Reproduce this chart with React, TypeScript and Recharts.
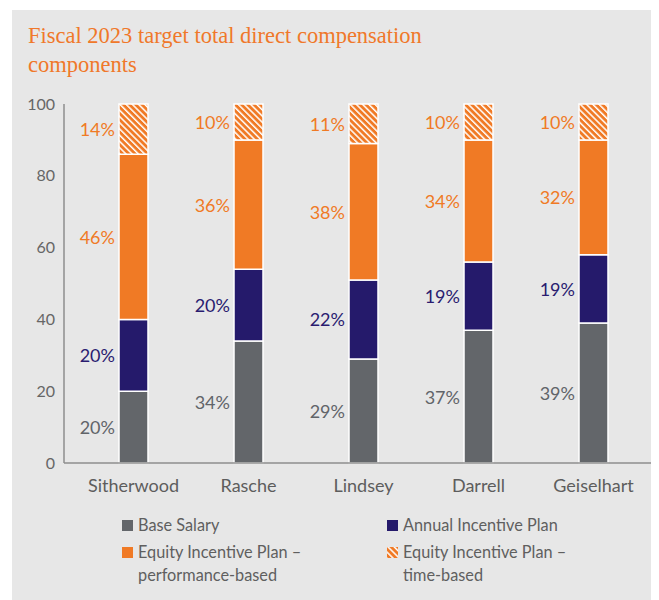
import React from 'react';
import { BarChart, Bar, XAxis, YAxis, LabelList } from 'recharts';

const categories = ['Sitherwood', 'Rasche', 'Lindsey', 'Darrell', 'Geiselhart'];
const baseSalary = [20, 34, 29, 37, 39];
const annualIncentive = [20, 20, 22, 19, 19];
const equityPerformance = [46, 36, 38, 34, 32];
const equityTime = [14, 10, 11, 10, 10];
const yTicks = [0, 20, 40, 60, 80, 100];

const seriesKeys = ['base', 'aip', 'eipPerf', 'eipTime'];
const seriesNames = [
  'Base Salary',
  'Annual Incentive Plan',
  'Equity Incentive Plan – performance-based',
  'Equity Incentive Plan – time-based',
];
const titleText = 'Fiscal 2023 target total direct compensation components';

const data = categories.map((name, i) => ({
  name,
  base: baseSalary[i],
  aip: annualIncentive[i],
  eipPerf: equityPerformance[i],
  eipTime: equityTime[i],
}));

const GRAY = '#63666a';
const NAVY = '#251a6b';
const ORANGE = '#f07a25';
const BG = '#e7e7e7';
const FONT = 'Lato, "Noto Sans", sans-serif';

const fills: Record<string, string> = {
  base: GRAY,
  aip: NAVY,
  eipPerf: ORANGE,
  eipTime: 'url(#hatchOrange)',
};
const labelColors: Record<string, string> = {
  base: '#616469',
  aip: '#2a1c70',
  eipPerf: ORANGE,
  eipTime: ORANGE,
};

const makeLabel = (color: string) => (props: any) => {
  const { x, y, height, value } = props;
  return (
    <text
      x={Number(x) - 4}
      y={Number(y) + Number(height) / 2}
      textAnchor="end"
      dominantBaseline="central"
      fill={color}
      fontSize={18}
      fontFamily={FONT}
    >
      {value}%
    </text>
  );
};

const HatchDefs = () => (
  <svg width={0} height={0} style={{ position: 'absolute' }}>
    <defs>
      <pattern
        id="hatchOrange"
        patternUnits="userSpaceOnUse"
        width={4.4}
        height={4.4}
        patternTransform="rotate(-45)"
      >
        <rect x={0} y={0} width={4.4} height={4.4} fill={ORANGE} />
        <rect x={0} y={0} width={1.5} height={4.4} fill="#ffffff" />
      </pattern>
    </defs>
  </svg>
);

const legendPos = [
  { left: 110, top: 503 },
  { left: 375, top: 503 },
  { left: 110, top: 530 },
  { left: 375, top: 530 },
];

export default function App() {
  return (
    <div
      style={{
        position: 'relative',
        marginLeft: 4,
        marginTop: 2,
        width: 647,
        height: 590,
        background: BG,
        overflow: 'hidden',
      }}
    >
      <HatchDefs />
      <div
        style={{
          position: 'absolute',
          left: 16,
          top: 11,
          width: 470,
          fontFamily: '"Liberation Serif", serif',
          fontSize: 22.5,
          lineHeight: '29px',
          color: '#f0782a',
        }}
      >
        {titleText}
      </div>
      <div style={{ position: 'absolute', left: 0, top: 0 }}>
        <BarChart
          width={647}
          height={590}
          data={data}
          margin={{ top: 94, right: 8, left: 0, bottom: 107 }}
        >
          <XAxis
            dataKey="name"
            tickLine={false}
            axisLine={{ stroke: '#8e8e8e', strokeWidth: 1.5 }}
            tick={{ fill: '#5d5d5d', fontSize: 18, fontFamily: FONT }}
            tickMargin={10}
            padding={{ left: 12, right: 0 }}
            height={30}
          />
          <YAxis
            width={52}
            domain={[0, 100]}
            ticks={yTicks}
            tickLine={false}
            axisLine={{ stroke: '#8e8e8e', strokeWidth: 1.5 }}
            tick={{ fill: '#666666', fontSize: 16, fontFamily: FONT }}
            tickMargin={3}
          />
          {seriesKeys.map((k, i) => (
            <Bar
              key={k}
              dataKey={k}
              name={seriesNames[i]}
              stackId="a"
              fill={fills[k]}
              stroke="#ffffff"
              strokeWidth={1.5}
              barSize={29}
              isAnimationActive={false}
            >
              <LabelList dataKey={k} content={makeLabel(labelColors[k])} />
            </Bar>
          ))}
        </BarChart>
      </div>
      {seriesKeys.map((k, i) => (
        <div
          key={k}
          style={{
            position: 'absolute',
            left: legendPos[i].left,
            top: legendPos[i].top,
            display: 'flex',
            alignItems: 'flex-start',
            fontFamily: FONT,
            fontSize: 16.3,
            lineHeight: '23px',
            color: '#5f5f5f',
          }}
        >
          <svg width={11} height={11} style={{ marginTop: 7, marginRight: 5, flex: 'none' }}>
            <rect x={0} y={0} width={11} height={11} fill={fills[k]} />
          </svg>
          <div style={{ width: 200 }}>{seriesNames[i]}</div>
        </div>
      ))}
    </div>
  );
}
